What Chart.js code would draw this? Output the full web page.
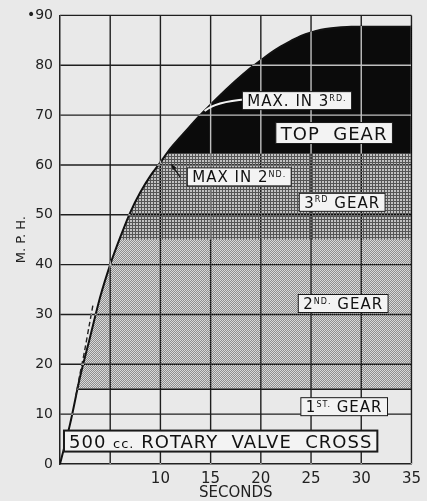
<!DOCTYPE html>
<html>
<head>
<meta charset="utf-8">
<script src="https://cdn.jsdelivr.net/npm/chart.js@4.4.1/dist/chart.umd.min.js"></script>
<style>
  html, body { margin: 0; padding: 0; background: #e9e9e9; }
  canvas { display: block; }
</style>
</head>
<body>
<canvas id="chart" width="427" height="501"></canvas>
<script>
// acceleration curve, 500 cc rotary valve machine
const seconds = [0, 1, 2, 3, 4, 5, 6, 7, 8, 9, 10, 11, 12, 13, 14, 15, 16, 17, 18, 19, 20, 21, 22, 23, 24, 25, 26, 27, 28, 29, 30, 32, 35];
const mph = [0, 8, 17.5, 25.5, 33.5, 40, 45.5, 50.5, 54.5, 57.8, 60.5, 63.3, 65.6, 67.9, 70.1, 72.1, 74.1, 76, 77.8, 79.5, 81, 82.5, 83.8, 84.9, 85.9, 86.6, 87.1, 87.4, 87.6, 87.7, 87.7, 87.7, 87.7];

// the short dashed trace just left of the curve
const dashSeconds = [1.55, 2.0, 2.45, 2.9, 3.3];
const dashMph = [13.4, 18.2, 22.7, 27.7, 32.1];

// gear bands (mph at which each shading starts)
const gearNames = ['2ND. GEAR', '3RD GEAR', 'TOP GEAR'];
const gearFrom = [15, 45, 62.3];

const xTicks = [10, 15, 20, 25, 30, 35];
const yTicks = [0, 10, 20, 30, 40, 50, 60, 70, 80, 90];

const FONT = "'DejaVu Sans', sans-serif";

function tile(size, fn) {
  const c = document.createElement('canvas');
  c.width = size; c.height = size;
  const g = c.getContext('2d');
  for (let i = 0; i < size; i++) {
    for (let j = 0; j < size; j++) {
      g.fillStyle = fn(i, j);
      g.fillRect(i, j, 1, 1);
    }
  }
  return g.createPattern(c, 'repeat');
}
const light = tile(2, (i, j) => ((i + j) % 2 ? '#8e8e8e' : '#d9d9d9'));
const dense = tile(3, (i, j) => (i === 0 || j === 0 ? '#555' : '#c2c2c2'));
const shades = [light, dense, '#0b0b0b'];

const points = seconds.map((s, i) => ({ x: s, y: mph[i] }));

// time at which the curve reaches a given speed
function crossAt(level) {
  for (let i = 1; i < mph.length; i++) {
    if (mph[i] >= level) {
      const f = (level - mph[i - 1]) / (mph[i] - mph[i - 1]);
      return seconds[i - 1] + f * (seconds[i] - seconds[i - 1]);
    }
  }
  return seconds[seconds.length - 1];
}

// part of the curve above a gear's starting speed
function bandPoints(level) {
  const pts = [{ x: crossAt(level), y: level }];
  seconds.forEach((s, i) => { if (mph[i] > level) pts.push({ x: s, y: mph[i] }); });
  return pts;
}

// labels placed in data units
const notes = [
  { parts: [['MAX. IN 3'], ['RD.', 'sup']], t: 23.6, v: 72.9, size: 15 },
  { parts: [['TOP  GEAR']], t: 27.3, v: 66.4, size: 18 },
  { parts: [['MAX IN 2'], ['ND.', 'sup']], t: 17.85, v: 57.6, size: 15 },
  { parts: [['3'], ['RD', 'sup'], [' GEAR']], t: 28.1, v: 52.5, size: 15 },
  { parts: [['2'], ['ND.', 'sup'], [' GEAR']], t: 28.2, v: 32.2, size: 15 },
  { parts: [['1'], ['ST.', 'sup'], [' GEAR']], t: 28.3, v: 11.5, size: 15 },
  { parts: [['500 '], ['cc.', 'small'], [' ROTARY  VALVE  CROSS']], t: 16.0, v: 4.6, size: 18, thick: true }
];

const paper = {
  id: 'paper',
  beforeDraw(chart) {
    const ctx = chart.ctx;
    ctx.save();
    ctx.fillStyle = '#e9e9e9';
    ctx.fillRect(0, 0, chart.width, chart.height);
    ctx.restore();
  }
};

// grid drawn over the shading so it shows dark on paper and light on black
const gridOver = {
  id: 'gridOver',
  afterDatasetsDraw(chart) {
    const { ctx, chartArea: a, scales: { x, y } } = chart;
    ctx.save();
    ctx.globalCompositeOperation = 'difference';
    ctx.strokeStyle = '#cacaca';
    ctx.lineWidth = 1.4;
    ctx.beginPath();
    x.ticks.forEach(t => {
      if (t.value === 0) return;
      const px = x.getPixelForValue(t.value);
      ctx.moveTo(px, a.top); ctx.lineTo(px, a.bottom);
    });
    y.ticks.forEach(t => {
      if (t.value === 0) return;
      const py = y.getPixelForValue(t.value);
      if (t.value === gearFrom[0]) {
        ctx.moveTo(x.getPixelForValue(crossAt(t.value)), py);
      } else if (t.value % 10 === 0) {
        ctx.moveTo(a.left, py);
      } else return;
      ctx.lineTo(a.right, py);
    });
    ctx.stroke();
    ctx.restore();
  }
};

function drawNote(ctx, n, cx, cy) {
  const fonts = {
    normal: `${n.size}px ${FONT}`,
    sup: `${Math.round(n.size * 0.55)}px ${FONT}`,
    small: `${Math.round(n.size * 0.7)}px ${FONT}`
  };
  ctx.letterSpacing = '1px';
  let w = 0;
  const widths = n.parts.map(p => {
    ctx.font = fonts[p[1] || 'normal'];
    const m = ctx.measureText(p[0]).width;
    w += m;
    return m;
  });
  const padX = 5, h = n.size + 3;
  const left = cx - w / 2 - padX;
  ctx.fillStyle = '#f3f3f3';
  ctx.fillRect(left, cy - h / 2, w + padX * 2, h);
  ctx.strokeStyle = '#1a1a1a';
  ctx.lineWidth = n.thick ? 2 : 1;
  ctx.strokeRect(left, cy - h / 2, w + padX * 2, h);
  ctx.fillStyle = '#111';
  ctx.textBaseline = 'alphabetic';
  ctx.textAlign = 'left';
  let px = left + padX;
  const base = cy + n.size * 0.37;
  n.parts.forEach((p, i) => {
    ctx.font = fonts[p[1] || 'normal'];
    const yy = p[1] === 'sup' ? base - n.size * 0.36 : base;
    ctx.fillText(p[0], px, yy);
    px += widths[i];
  });
  ctx.letterSpacing = '0px';
}

const notesPlugin = {
  id: 'notes',
  afterDraw(chart) {
    const { ctx, scales: { x, y } } = chart;
    ctx.save();
    // pointer for max in 3rd
    ctx.strokeStyle = '#f3f3f3';
    ctx.lineWidth = 2;
    ctx.beginPath();
    ctx.moveTo(x.getPixelForValue(14.4), y.getPixelForValue(70.8));
    ctx.quadraticCurveTo(x.getPixelForValue(15.4), y.getPixelForValue(72.7),
                         x.getPixelForValue(18.6), y.getPixelForValue(73.2));
    ctx.stroke();
    // arrow for max in 2nd
    const ax0 = x.getPixelForValue(11.95), ay0 = y.getPixelForValue(57.6);
    const ax1 = x.getPixelForValue(11.1), ay1 = y.getPixelForValue(60.1);
    ctx.strokeStyle = '#111';
    ctx.lineWidth = 1.2;
    ctx.beginPath();
    ctx.moveTo(ax0, ay0); ctx.lineTo(ax1, ay1);
    ctx.stroke();
    const ang = Math.atan2(ay1 - ay0, ax1 - ax0);
    ctx.fillStyle = '#111';
    ctx.beginPath();
    ctx.moveTo(ax1, ay1);
    ctx.lineTo(ax1 - 6 * Math.cos(ang - 0.4), ay1 - 6 * Math.sin(ang - 0.4));
    ctx.lineTo(ax1 - 6 * Math.cos(ang + 0.4), ay1 - 6 * Math.sin(ang + 0.4));
    ctx.closePath();
    ctx.fill();
    notes.forEach(n => drawNote(ctx, n, x.getPixelForValue(n.t), y.getPixelForValue(n.v)));
    ctx.restore();
  }
};

const bandSets = gearNames.map((name, i) => ({
  label: name,
  data: bandPoints(gearFrom[i]),
  borderWidth: 0,
  pointRadius: 0,
  cubicInterpolationMode: 'monotone',
  fill: { target: { value: gearFrom[i] }, above: shades[i], below: 'rgba(0,0,0,0)' }
})).reverse();

new Chart(document.getElementById('chart'), {
  type: 'line',
  data: {
    datasets: [
      {
        label: 'dashed',
        data: dashSeconds.map((s, i) => ({ x: s, y: dashMph[i] })),
        borderColor: '#222',
        borderWidth: 1.4,
        borderDash: [5, 3],
        pointRadius: 0,
        tension: 0.3,
        fill: false
      },
      {
        label: 'acceleration',
        data: points,
        borderColor: '#111',
        borderWidth: 2,
        pointRadius: 0,
        cubicInterpolationMode: 'monotone',
        fill: false
      },
      ...bandSets
    ]
  },
  options: {
    responsive: false,
    animation: false,
    devicePixelRatio: 1,
    layout: { padding: { top: 13, right: 15, left: 0, bottom: 0 } },
    plugins: { legend: { display: false }, tooltip: { enabled: false } },
    scales: {
      x: {
        type: 'linear',
        min: 0, max: 35,
        afterFit: s => { s.height = 37; },
        afterBuildTicks: s => { s.ticks = [0, 5, ...xTicks].map(v => ({ value: v })); },
        grid: { display: false, drawTicks: false },
        border: { display: true, color: '#222', width: 1.5 },
        ticks: {
          padding: 6,
          color: '#222',
          font: { family: FONT, size: 15 },
          callback: v => (xTicks.includes(v) ? String(v) : '')
        },
        title: {
          display: true,
          text: 'SECONDS',
          color: '#222',
          font: { family: FONT, size: 15, lineHeight: 1 },
          padding: { top: 0, bottom: 0 }
        }
      },
      y: {
        min: 0, max: 90,
        afterFit: s => { s.width = 60; },
        afterBuildTicks: s => {
          const v = [...yTicks, gearFrom[0]].sort((a, b) => a - b);
          s.ticks = v.map(t => ({ value: t }));
        },
        grid: { display: false, drawTicks: false },
        border: { display: true, color: '#222', width: 1.5 },
        ticks: {
          padding: 7,
          color: '#222',
          font: { family: FONT, size: 14 },
          callback: v => (yTicks.includes(v) ? (v === 90 ? '•' + v : String(v)) : '')
        },
        title: {
          display: true,
          text: 'M. P. H.',
          color: '#222',
          font: { family: FONT, size: 13, lineHeight: 1 },
          padding: { top: 15, bottom: 0 }
        }
      }
    }
  },
  plugins: [paper, gridOver, notesPlugin]
});
</script>
</body>
</html>
